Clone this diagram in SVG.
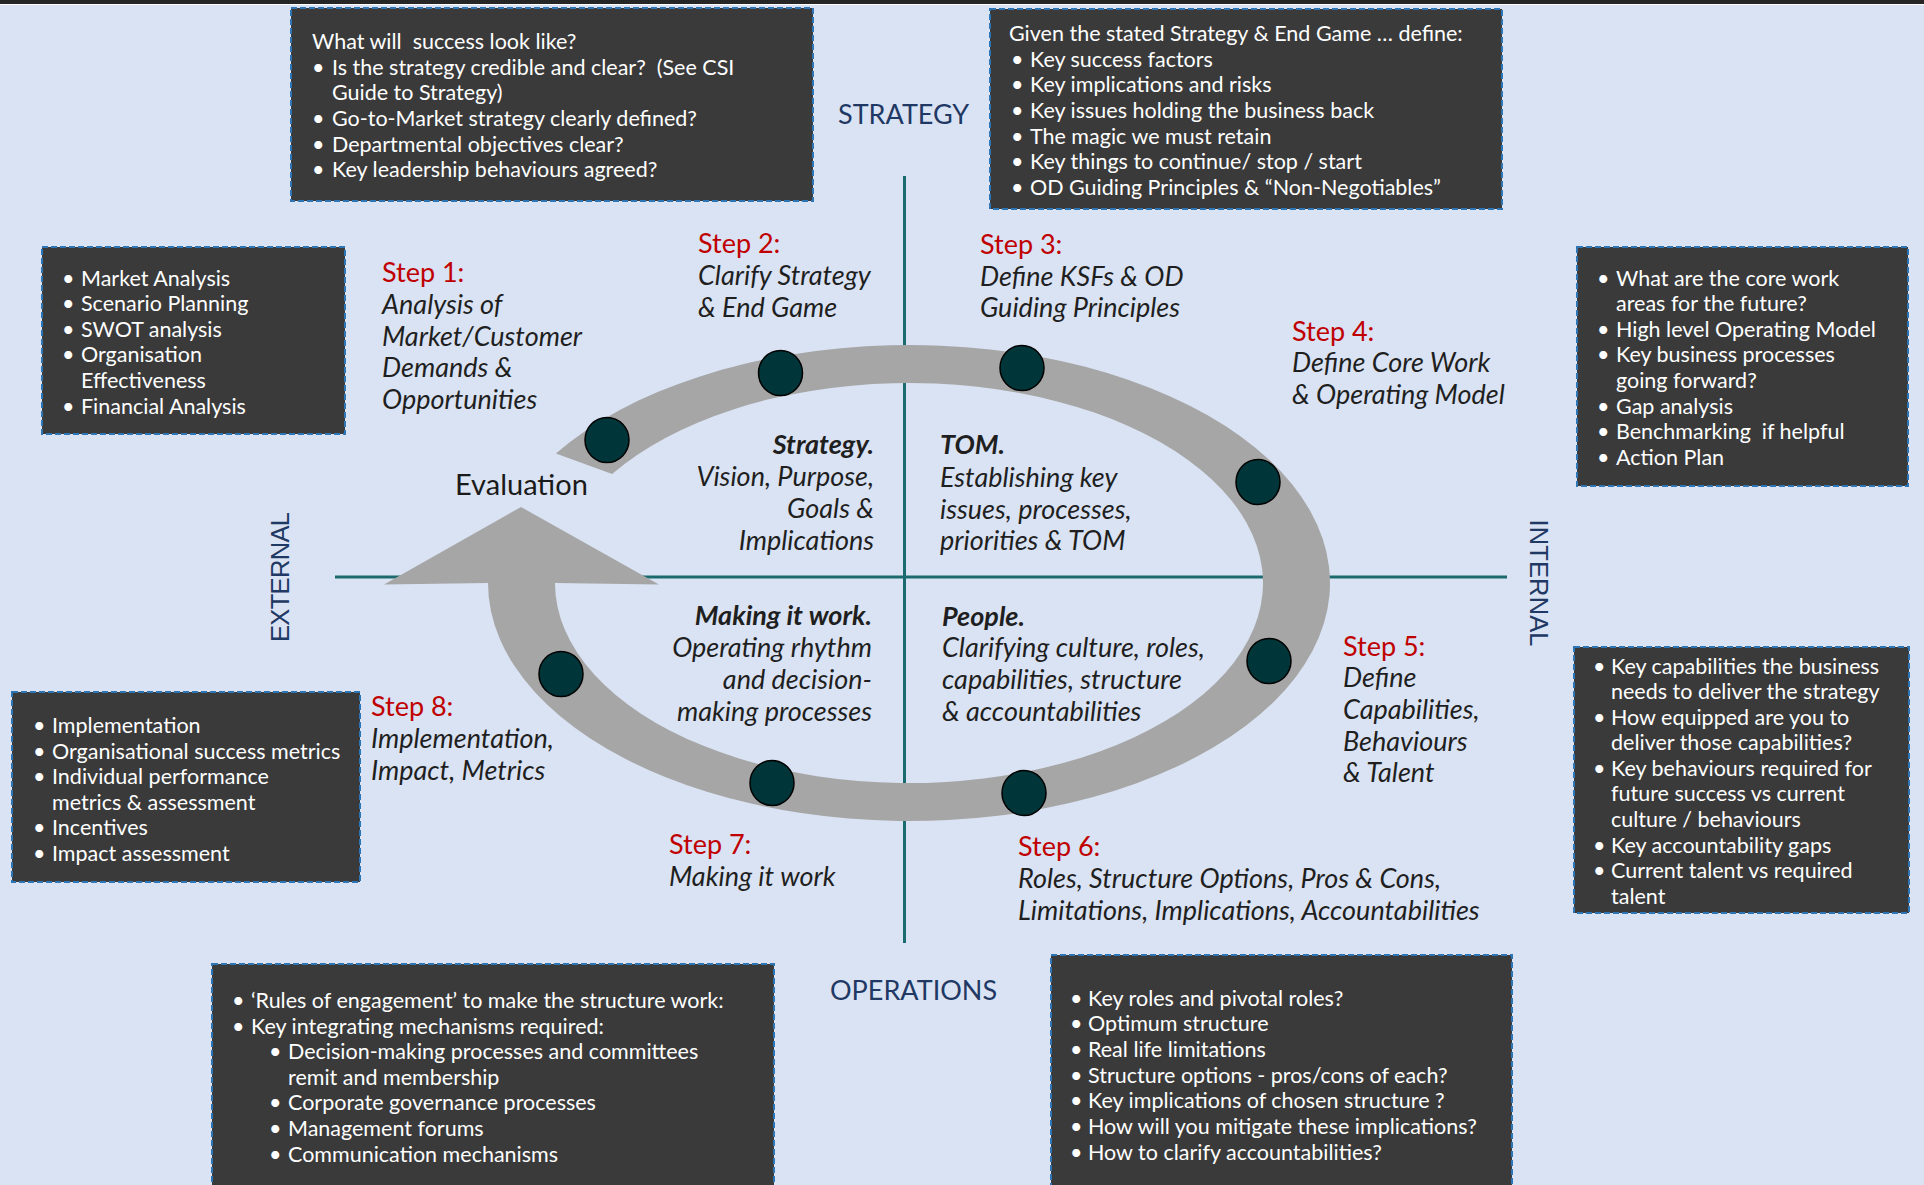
<svg xmlns="http://www.w3.org/2000/svg" width="1924" height="1185" viewBox="0 0 1924 1185">
<defs>
<style>
.bg{fill:#DAE3F3}
.box{fill:#3A3A3A;stroke:#2E75B6;stroke-width:2;stroke-dasharray:6 3}
.bt{font-family:Lato,"Noto Sans",sans-serif;font-size:21.5px;fill:#FFFFFF;white-space:pre}
.st{font-family:Lato,"Noto Sans",sans-serif;font-size:27px;fill:#C00000}
.sd{font-family:Lato,"Noto Sans",sans-serif;font-size:27px;font-style:italic;fill:#1F1F1F}
.qb{font-weight:bold}
.ax{font-family:Lato,"Noto Sans",sans-serif;font-size:27px;fill:#1F3864}
.axr{font-family:"Liberation Sans",Arial,sans-serif;font-size:25.5px;fill:#1F3864}
.axis{stroke:#1B6B6E;stroke-width:3;fill:none}
.ring{fill:#A6A6A6}
.dot{fill:#00363A;stroke:#000000;stroke-width:1.5}
</style>
</defs>
<rect class="bg" x="0" y="0" width="1924" height="1185"/>
<rect x="0" y="0" width="1924" height="4" fill="#262626"/>
<rect x="0" y="4" width="1924" height="1" fill="#FFFFFF"/>

<g id="axes">
<line class="axis" x1="904.5" y1="176" x2="904.5" y2="943"/>
<line class="axis" x1="335" y1="577" x2="1507" y2="577"/>
</g>

<g id="connectors">
<path class="ring" d="M555.9 453.4 A421 238 0 1 1 488 583 L384 584.5 L521 507 L659 584.5 L555 583 A354 200 0 1 0 612.1 474.1 Z"/>
</g>

<g id="dots">
<ellipse class="dot" cx="607" cy="440" rx="22" ry="22.5"/>
<ellipse class="dot" cx="780.5" cy="373" rx="22" ry="22.5"/>
<ellipse class="dot" cx="1022" cy="368" rx="22" ry="22.5"/>
<ellipse class="dot" cx="1258" cy="482" rx="22" ry="22.5"/>
<ellipse class="dot" cx="1269" cy="661" rx="22" ry="22.5"/>
<ellipse class="dot" cx="1024" cy="793" rx="22" ry="22.5"/>
<ellipse class="dot" cx="772" cy="783" rx="22" ry="22.5"/>
<ellipse class="dot" cx="561" cy="674" rx="22" ry="22.5"/>
</g>

<g id="axis-labels">
<text class="ax" x="838" y="124">STRATEGY</text>
<text class="ax" x="830" y="1000">OPERATIONS</text>
<text class="axr" transform="translate(289,577) rotate(-90)" text-anchor="middle" textLength="130" lengthAdjust="spacing">EXTERNAL</text>
<text class="axr" transform="translate(1530,583) rotate(90)" text-anchor="middle" textLength="127" lengthAdjust="spacing">INTERNAL</text>
</g>

<g id="evaluation">
<text x="455" y="495" font-family="Lato,'Noto Sans',sans-serif" font-size="29" fill="#1A1A1A">Evaluation</text>
</g>

<g id="box-success">
<rect class="box" x="291" y="8" width="522" height="193"/>
<text class="bt" x="312" y="49">What will  success look like?</text>
<text class="bt" x="312" y="75">•</text><text class="bt" x="332" y="75">Is the strategy credible and clear?  (See CSI</text>
<text class="bt" x="332" y="100">Guide to Strategy)</text>
<text class="bt" x="312" y="126">•</text><text class="bt" x="332" y="126">Go-to-Market strategy clearly defined?</text>
<text class="bt" x="312" y="152">•</text><text class="bt" x="332" y="152">Departmental objectives clear?</text>
<text class="bt" x="312" y="177">•</text><text class="bt" x="332" y="177">Key leadership behaviours agreed?</text>
</g>

<g id="box-define">
<rect class="box" x="990" y="9" width="512" height="200"/>
<text class="bt" x="1009" y="41">Given the stated Strategy &amp; End Game … define:</text>
<text class="bt" x="1011" y="67">•</text><text class="bt" x="1030" y="67">Key success factors</text>
<text class="bt" x="1011" y="92">•</text><text class="bt" x="1030" y="92">Key implications and risks</text>
<text class="bt" x="1011" y="118">•</text><text class="bt" x="1030" y="118">Key issues holding the business back</text>
<text class="bt" x="1011" y="144">•</text><text class="bt" x="1030" y="144">The magic we must retain</text>
<text class="bt" x="1011" y="169">•</text><text class="bt" x="1030" y="169">Key things to continue/ stop / start</text>
<text class="bt" x="1011" y="195">•</text><text class="bt" x="1030" y="195">OD Guiding Principles &amp; “Non-Negotiables”</text>
</g>

<g id="box-core-work">
<rect class="box" x="1577" y="247" width="331" height="239"/>
<text class="bt" x="1597" y="286">•</text><text class="bt" x="1616" y="286">What are the core work</text>
<text class="bt" x="1616" y="311">areas for the future?</text>
<text class="bt" x="1597" y="337">•</text><text class="bt" x="1616" y="337">High level Operating Model</text>
<text class="bt" x="1597" y="362">•</text><text class="bt" x="1616" y="362">Key business processes</text>
<text class="bt" x="1616" y="388">going forward?</text>
<text class="bt" x="1597" y="414">•</text><text class="bt" x="1616" y="414">Gap analysis</text>
<text class="bt" x="1597" y="439">•</text><text class="bt" x="1616" y="439">Benchmarking  if helpful</text>
<text class="bt" x="1597" y="465">•</text><text class="bt" x="1616" y="465">Action Plan</text>
</g>

<g id="box-analysis">
<rect class="box" x="42" y="247" width="303" height="187"/>
<text class="bt" x="62" y="286">•</text><text class="bt" x="81" y="286">Market Analysis</text>
<text class="bt" x="62" y="311">•</text><text class="bt" x="81" y="311">Scenario Planning</text>
<text class="bt" x="62" y="337">•</text><text class="bt" x="81" y="337">SWOT analysis</text>
<text class="bt" x="62" y="362">•</text><text class="bt" x="81" y="362">Organisation</text>
<text class="bt" x="81" y="388">Effectiveness</text>
<text class="bt" x="62" y="414">•</text><text class="bt" x="81" y="414">Financial Analysis</text>
</g>

<g id="box-capabilities">
<rect class="box" x="1574" y="647" width="335" height="266"/>
<text class="bt" x="1593" y="674">•</text><text class="bt" x="1611" y="674">Key capabilities the business</text>
<text class="bt" x="1611" y="699">needs to deliver the strategy</text>
<text class="bt" x="1593" y="725">•</text><text class="bt" x="1611" y="725">How equipped are you to</text>
<text class="bt" x="1611" y="750">deliver those capabilities?</text>
<text class="bt" x="1593" y="776">•</text><text class="bt" x="1611" y="776">Key behaviours required for</text>
<text class="bt" x="1611" y="801">future success vs current</text>
<text class="bt" x="1611" y="827">culture / behaviours</text>
<text class="bt" x="1593" y="853">•</text><text class="bt" x="1611" y="853">Key accountability gaps</text>
<text class="bt" x="1593" y="878">•</text><text class="bt" x="1611" y="878">Current talent vs required</text>
<text class="bt" x="1611" y="904">talent</text>
</g>

<g id="box-metrics">
<rect class="box" x="12" y="692" width="348" height="190"/>
<text class="bt" x="33" y="733">•</text><text class="bt" x="52" y="733">Implementation</text>
<text class="bt" x="33" y="759">•</text><text class="bt" x="52" y="759">Organisational success metrics</text>
<text class="bt" x="33" y="784">•</text><text class="bt" x="52" y="784">Individual performance</text>
<text class="bt" x="52" y="810">metrics &amp; assessment</text>
<text class="bt" x="33" y="835">•</text><text class="bt" x="52" y="835">Incentives</text>
<text class="bt" x="33" y="861">•</text><text class="bt" x="52" y="861">Impact assessment</text>
</g>

<g id="box-engagement">
<rect class="box" x="212" y="964" width="562" height="240"/>
<text class="bt" x="232" y="1008">•</text><text class="bt" x="251" y="1008">‘Rules of engagement’ to make the structure work:</text>
<text class="bt" x="232" y="1034">•</text><text class="bt" x="251" y="1034">Key integrating mechanisms required:</text>
<text class="bt" x="269" y="1059">•</text><text class="bt" x="288" y="1059">Decision-making processes and committees</text>
<text class="bt" x="288" y="1085">remit and membership</text>
<text class="bt" x="269" y="1110">•</text><text class="bt" x="288" y="1110">Corporate governance processes</text>
<text class="bt" x="269" y="1136">•</text><text class="bt" x="288" y="1136">Management forums</text>
<text class="bt" x="269" y="1162">•</text><text class="bt" x="288" y="1162">Communication mechanisms</text>
</g>

<g id="box-structure">
<rect class="box" x="1051" y="955" width="461" height="250"/>
<text class="bt" x="1070" y="1006">•</text><text class="bt" x="1088" y="1006">Key roles and pivotal roles?</text>
<text class="bt" x="1070" y="1031">•</text><text class="bt" x="1088" y="1031">Optimum structure</text>
<text class="bt" x="1070" y="1057">•</text><text class="bt" x="1088" y="1057">Real life limitations</text>
<text class="bt" x="1070" y="1083">•</text><text class="bt" x="1088" y="1083">Structure options - pros/cons of each?</text>
<text class="bt" x="1070" y="1108">•</text><text class="bt" x="1088" y="1108">Key implications of chosen structure ?</text>
<text class="bt" x="1070" y="1134">•</text><text class="bt" x="1088" y="1134">How will you mitigate these implications?</text>
<text class="bt" x="1070" y="1160">•</text><text class="bt" x="1088" y="1160">How to clarify accountabilities?</text>
</g>

<g id="step1">
<text class="st" x="382" y="282">Step 1:</text>
<text class="sd" x="382" y="314">Analysis of</text>
<text class="sd" x="382" y="346">Market/Customer</text>
<text class="sd" x="382" y="377">Demands &amp;</text>
<text class="sd" x="382" y="409">Opportunities</text>
</g>
<g id="step2">
<text class="st" x="698" y="253">Step 2:</text>
<text class="sd" x="698" y="285">Clarify Strategy</text>
<text class="sd" x="698" y="317">&amp; End Game</text>
</g>
<g id="step3">
<text class="st" x="980" y="254">Step 3:</text>
<text class="sd" x="980" y="286">Define KSFs &amp; OD</text>
<text class="sd" x="980" y="317">Guiding Principles</text>
</g>
<g id="step4">
<text class="st" x="1292" y="341">Step 4:</text>
<text class="sd" x="1292" y="372">Define Core Work</text>
<text class="sd" x="1292" y="404">&amp; Operating Model</text>
</g>
<g id="step5">
<text class="st" x="1343" y="656">Step 5:</text>
<text class="sd" x="1343" y="687">Define</text>
<text class="sd" x="1343" y="719">Capabilities,</text>
<text class="sd" x="1343" y="751">Behaviours</text>
<text class="sd" x="1343" y="782">&amp; Talent</text>
</g>
<g id="step6">
<text class="st" x="1018" y="856">Step 6:</text>
<text class="sd" x="1018" y="888">Roles, Structure Options, Pros &amp; Cons,</text>
<text class="sd" x="1018" y="920">Limitations, Implications, Accountabilities</text>
</g>
<g id="step7">
<text class="st" x="669" y="854">Step 7:</text>
<text class="sd" x="669" y="886">Making it work</text>
</g>
<g id="step8">
<text class="st" x="371" y="716">Step 8:</text>
<text class="sd" x="371" y="748">Implementation,</text>
<text class="sd" x="371" y="780">Impact, Metrics</text>
</g>

<g id="quadrant-strategy" text-anchor="end">
<text class="sd qb" x="874" y="454">Strategy.</text>
<text class="sd" x="874" y="486">Vision, Purpose,</text>
<text class="sd" x="874" y="518">Goals &amp;</text>
<text class="sd" x="874" y="550">Implications</text>
</g>
<g id="quadrant-tom">
<text class="sd qb" x="940" y="454">TOM.</text>
<text class="sd" x="940" y="487">Establishing key</text>
<text class="sd" x="940" y="519">issues, processes,</text>
<text class="sd" x="940" y="550">priorities &amp; TOM</text>
</g>
<g id="quadrant-making" text-anchor="end">
<text class="sd qb" x="872" y="625">Making it work.</text>
<text class="sd" x="872" y="657">Operating rhythm</text>
<text class="sd" x="872" y="689">and decision-</text>
<text class="sd" x="872" y="721">making processes</text>
</g>
<g id="quadrant-people">
<text class="sd qb" x="942" y="626">People.</text>
<text class="sd" x="942" y="657">Clarifying culture, roles,</text>
<text class="sd" x="942" y="689">capabilities, structure</text>
<text class="sd" x="942" y="721">&amp; accountabilities</text>
</g>
</svg>
